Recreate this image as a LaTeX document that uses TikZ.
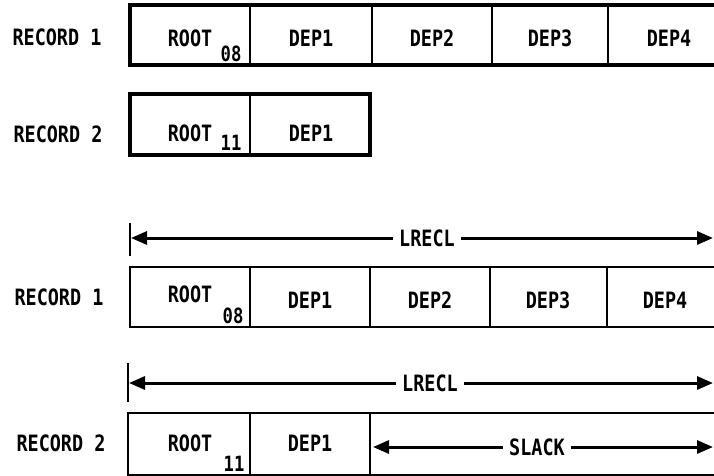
\documentclass[tikz,border=0pt]{standalone}
\usepackage{fontspec}
\setmainfont[FakeStretch=0.82]{DejaVu Sans Mono}
\usetikzlibrary{arrows.meta}
\begin{document}
\begin{tikzpicture}[x=1pt,y=-1pt,
  txt/.style={font=\bfseries\fontsize{22.5}{22.5}\selectfont, inner sep=0pt, anchor=center},
  subtxt/.style={font=\bfseries\fontsize{21}{21}\selectfont, inner sep=0pt, anchor=center},
  heavy/.style={line width=3.4pt, line join=miter},
  heavydiv/.style={line width=2.6pt},
  light/.style={line width=2.4pt, line join=miter},
  lightdiv/.style={line width=2pt},
  tri/.tip={Triangle[length=16pt,width=13pt]},
  dimboth/.style={line width=3pt, tri-tri},
  midlabel/.style={txt, fill=white, inner xsep=6pt, inner ysep=3pt}
]
\useasboundingbox (0,0) rectangle (714,476);

% ---------- top: RECORD 1 ----------
\draw[heavy] (716,5) -- (130,5) -- (130,65) -- (716,65);
\foreach \x in {250,372,492,608} \draw[heavydiv] (\x,5) -- (\x,65);
\node[txt] (r1lab) at (57,37) {RECORD 1};
\node[txt] (r1root) at (190,38) {ROOT};
\node[subtxt] (r1sub) at (231,54) {08};
\node[txt] (r1d1) at (311,38) {DEP1};
\node[txt] (r1d2) at (432,38) {DEP2};
\node[txt] (r1d3) at (550,38) {DEP3};
\node[txt] (r1d4) at (669,38) {DEP4};

% ---------- top: RECORD 2 ----------
\draw[heavy] (130,94) rectangle (370,155);
\draw[heavydiv] (250,94) -- (250,155);
\node[txt] (r2lab) at (58,134) {RECORD 2};
\node[txt] (r2root) at (190,133) {ROOT};
\node[subtxt] (r2sub) at (231,143) {11};
\node[txt] (r2d1) at (311,133) {DEP1};

% ---------- LRECL 1 ----------
\draw[lightdiv] (130,223) -- (130,256);
\coordinate (la1) at (131,238);
\coordinate (lb1) at (713,238);
\draw[dimboth] (la1) -- (lb1);
\node[midlabel] (lrecl1) at (427,238) {LRECL};

% ---------- bottom: RECORD 1 ----------
\draw[light] (716,267) -- (130,267) -- (130,327) -- (716,327);
\foreach \x in {250,370,490,607} \draw[lightdiv] (\x,267) -- (\x,327);
\node[txt] (s1lab) at (59,297) {RECORD 1};
\node[txt] (s1root) at (190,294) {ROOT};
\node[subtxt] (s1sub) at (233,316) {08};
\node[txt] (s1d1) at (310,300) {DEP1};
\node[txt] (s1d2) at (430,300) {DEP2};
\node[txt] (s1d3) at (548,300) {DEP3};
\node[txt] (s1d4) at (665,300) {DEP4};

% ---------- LRECL 2 ----------
\draw[lightdiv] (128,363) -- (128,402);
\coordinate (la2) at (129,383);
\coordinate (lb2) at (713,383);
\draw[dimboth] (la2) -- (lb2);
\node[midlabel] (lrecl2) at (430,383) {LRECL};

% ---------- bottom: RECORD 2 ----------
\draw[light] (716,413) -- (128,413) -- (128,475) -- (716,475);
\foreach \x in {250,370} \draw[lightdiv] (\x,413) -- (\x,475);
\node[txt] (s2lab) at (61,443) {RECORD 2};
\node[txt] (s2root) at (190,443) {ROOT};
\node[subtxt] (s2sub) at (234,464) {11};
\node[txt] (s2d1) at (310,443) {DEP1};
\coordinate (sa) at (373,447);
\coordinate (sb) at (713,447);
\draw[dimboth] (sa) -- (sb);
\node[midlabel] (slack) at (537,447) {SLACK};
\end{tikzpicture}
\end{document}
